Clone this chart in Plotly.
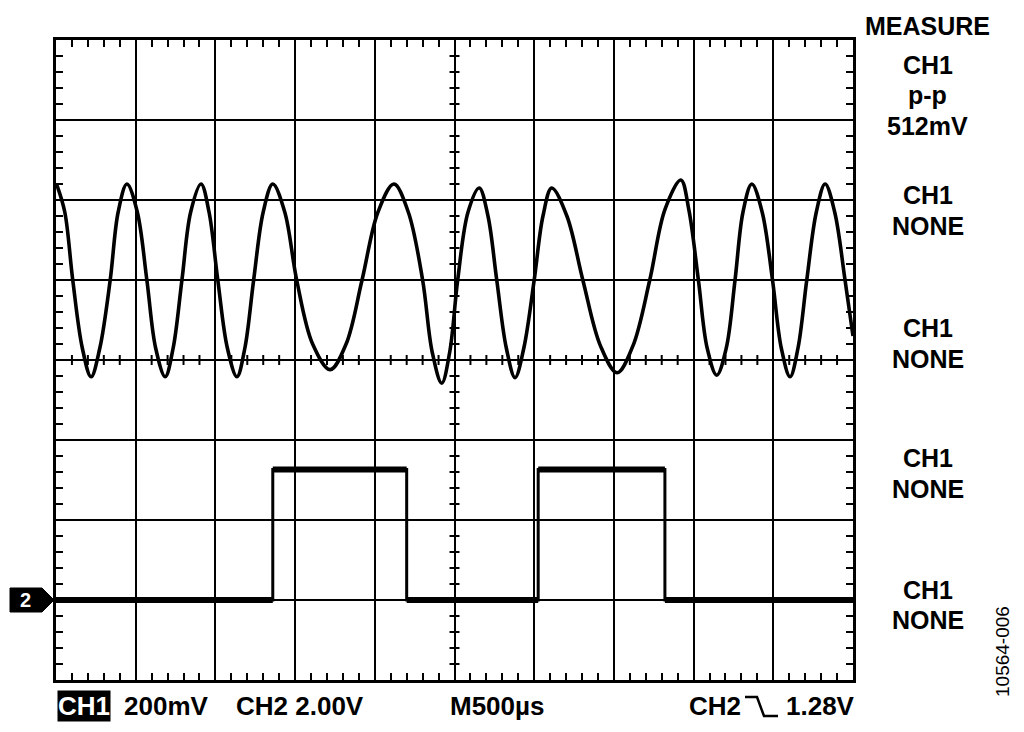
import plotly.graph_objects as go

# ---------------- data (screen divisions) ----------------
# CH1: FSK sine, time in divisions (500 us/div), level in divisions (200 mV/div)
ch1_t = [0.01, 0.11, 0.21, 0.33, 0.44, 0.55, 0.68, 0.78, 0.89, 1.02, 1.14, 1.25,
         1.37, 1.47, 1.58, 1.69, 1.82, 1.92, 2.03, 2.15, 2.27, 2.37, 2.48, 2.60,
         2.72, 2.87, 3.02, 3.22, 3.44, 3.64, 3.84, 4.04, 4.24, 4.42, 4.60, 4.72,
         4.84, 4.94, 5.04, 5.17, 5.31, 5.42, 5.53, 5.65, 5.76, 5.87, 6.00, 6.11,
         6.22, 6.41, 6.61, 6.83, 7.04, 7.24, 7.45, 7.64, 7.84, 7.94, 8.06, 8.17,
         8.29, 8.41, 8.52, 8.62, 8.73, 8.86, 8.99, 9.10, 9.21, 9.31, 9.42, 9.54,
         9.65, 9.77, 9.90, 10.0]
ch1_v = [2.19, 1.85, 1.0, 0.15, -0.21, 0.15, 1.0, 1.85, 2.2, 1.85, 1.0, 0.15,
         -0.21, 0.15, 1.0, 1.85, 2.2, 1.85, 1.0, 0.15, -0.21, 0.15, 1.0, 1.85,
         2.2, 1.85, 1.0, 0.2, -0.12, 0.2, 1.0, 1.85, 2.2, 1.85, 1.0, 0.1,
         -0.29, 0.1, 1.0, 1.85, 2.15, 1.8, 1.0, 0.15, -0.22, 0.15, 1.0, 1.8,
         2.15, 1.8, 1.0, 0.18, -0.16, 0.18, 1.0, 1.88, 2.25, 1.88, 1.0, 0.15,
         -0.19, 0.15, 1.0, 1.85, 2.2, 1.85, 1.0, 0.15, -0.21, 0.15, 1.0, 1.85,
         2.2, 1.85, 1.0, 0.3]

# CH2: digital signal (2.00 V/div)
ch2_t = [0.0, 2.72, 4.40, 6.05, 7.64, 10.0]
ch2_v = [-3.0, -1.37, -3.0, -1.37, -3.0, -3.0]

measure_labels = ["MEASURE", "CH1", "p-p", "512mV", "CH1", "NONE", "CH1", "NONE",
                  "CH1", "NONE", "CH1", "NONE"]
bottom_labels = ["200mV", "CH2 2.00V", "M500µs", "CH2", "1.28V"]
ch_box_label = "CH1"
ground_marker = "2"
figure_id = "10564-006"

# ---------------- layout geometry ----------------
W, H = 1024, 732
L, R, T, B = 56, 853, 40, 680


def px(x, y):
    return (x - L) / (R - L), (B - y) / (B - T)


FONT = "Arial, Liberation Sans, Helvetica, sans-serif"

fig = go.Figure()
fig.add_trace(go.Scatter(x=ch1_t, y=ch1_v, mode="lines",
                         line=dict(color="black", width=3.6, shape="spline", smoothing=1.0),
                         hoverinfo="skip", showlegend=False))
# CH2 edges (thin) and levels (thick)
fig.add_trace(go.Scatter(x=ch2_t, y=ch2_v, mode="lines",
                         line=dict(color="black", width=3, shape="hv"),
                         hoverinfo="skip", showlegend=False))
lev_x, lev_y = [], []
for i in range(len(ch2_t) - 1):
    lev_x += [ch2_t[i], ch2_t[i + 1], None]
    lev_y += [ch2_v[i], ch2_v[i], None]
fig.add_trace(go.Scatter(x=lev_x, y=lev_y, mode="lines",
                         line=dict(color="black", width=6),
                         hoverinfo="skip", showlegend=False))

axis_common = dict(showgrid=True, gridcolor="black", gridwidth=2, zeroline=False,
                   showline=True, linecolor="black", linewidth=3, mirror="ticks",
                   ticks="", showticklabels=False, fixedrange=True)
fig.update_xaxes(range=[0, 10], dtick=1, tick0=0,
                 minor=dict(dtick=0.2, tick0=0, ticks="inside", ticklen=7, tickwidth=2,
                            tickcolor="black", showgrid=False), **axis_common)
fig.update_yaxes(range=[-4, 4], dtick=1, tick0=-4,
                 minor=dict(dtick=0.2, tick0=0, ticks="inside", ticklen=7, tickwidth=2,
                            tickcolor="black", showgrid=False), **axis_common)

shapes = []
# ticks across the centre lines
for i in range(1, 50):
    if i % 5 == 0:
        continue
    xv = i * 0.2
    shapes.append(dict(type="line", xref="x", yref="y", ysizemode="pixel", yanchor=0,
                       x0=xv, x1=xv, y0=-5, y1=5, line=dict(color="black", width=2)))
for i in range(1, 40):
    if i % 5 == 0:
        continue
    yv = -4 + i * 0.2
    shapes.append(dict(type="line", xref="x", yref="y", xsizemode="pixel", xanchor=5,
                       x0=-5, x1=5, y0=yv, y1=yv, line=dict(color="black", width=2)))

# CH2 ground marker (arrow tag), placed in paper space left of the screen
gy = B - (ch2_v[0] + 4) / 8 * (B - T)   # pixel row of the CH2 ground level
tag = [(10, gy - 12), (42, gy - 12), (54, gy), (42, gy + 12), (10, gy + 12)]
tag_p = [px(a, b) for a, b in tag]
shapes.append(dict(type="path", xref="paper", yref="paper",
                   path="M " + " L ".join(f"{a} {b}" for a, b in tag_p) + " Z",
                   fillcolor="black", line=dict(color="black", width=1)))

# falling-edge trigger symbol
p1 = px(745, 697); p2 = px(757, 697); p3 = px(764, 716); p4 = px(778, 716)
shapes.append(dict(type="path", xref="paper", yref="paper",
                   path=f"M {p1[0]} {p1[1]} L {p2[0]} {p2[1]} L {p3[0]} {p3[1]} L {p4[0]} {p4[1]}",
                   line=dict(color="black", width=2.5)))

annotations = []
meas_y = [26, 65, 95, 126, 195, 226, 328, 359, 458, 489, 590, 620]
for txt, yy in zip(measure_labels, meas_y):
    ax, ay = px(928, yy)
    annotations.append(dict(text=txt, x=ax, y=ay, xref="paper", yref="paper",
                            xanchor="center", yanchor="middle", showarrow=False,
                            font=dict(family=FONT, size=25, color="black", weight="bold")))

bottom_x = [166, 300, 497, 715, 820]
for txt, xx in zip(bottom_labels, bottom_x):
    ax, ay = px(xx, 706)
    annotations.append(dict(text=txt, x=ax, y=ay, xref="paper", yref="paper",
                            xanchor="center", yanchor="middle", showarrow=False,
                            font=dict(family=FONT, size=26, color="black", weight="bold")))

ax, ay = px(84, 706)
annotations.append(dict(text=ch_box_label, x=ax, y=ay, xref="paper", yref="paper",
                        xanchor="center", yanchor="middle", showarrow=False,
                        bgcolor="black", borderpad=0,
                        font=dict(family=FONT, size=26, color="white", weight="bold")))

ax, ay = px(25, gy)
annotations.append(dict(text=ground_marker, x=ax, y=ay, xref="paper", yref="paper",
                        xanchor="center", yanchor="middle", showarrow=False,
                        font=dict(family=FONT, size=20, color="white", weight="bold")))

ax, ay = px(1002, 651)
annotations.append(dict(text=figure_id, x=ax, y=ay, xref="paper", yref="paper",
                        xanchor="center", yanchor="middle", showarrow=False, textangle=-90,
                        font=dict(family=FONT, size=19, color="black")))

fig.update_layout(width=W, height=H, margin=dict(l=L, r=W - R, t=T, b=H - B),
                  paper_bgcolor="white", plot_bgcolor="white",
                  shapes=shapes, annotations=annotations, showlegend=False)

fig.write_html("out.html", config={"displayModeBar": False},
               post_script="document.body.style.margin='0';")
